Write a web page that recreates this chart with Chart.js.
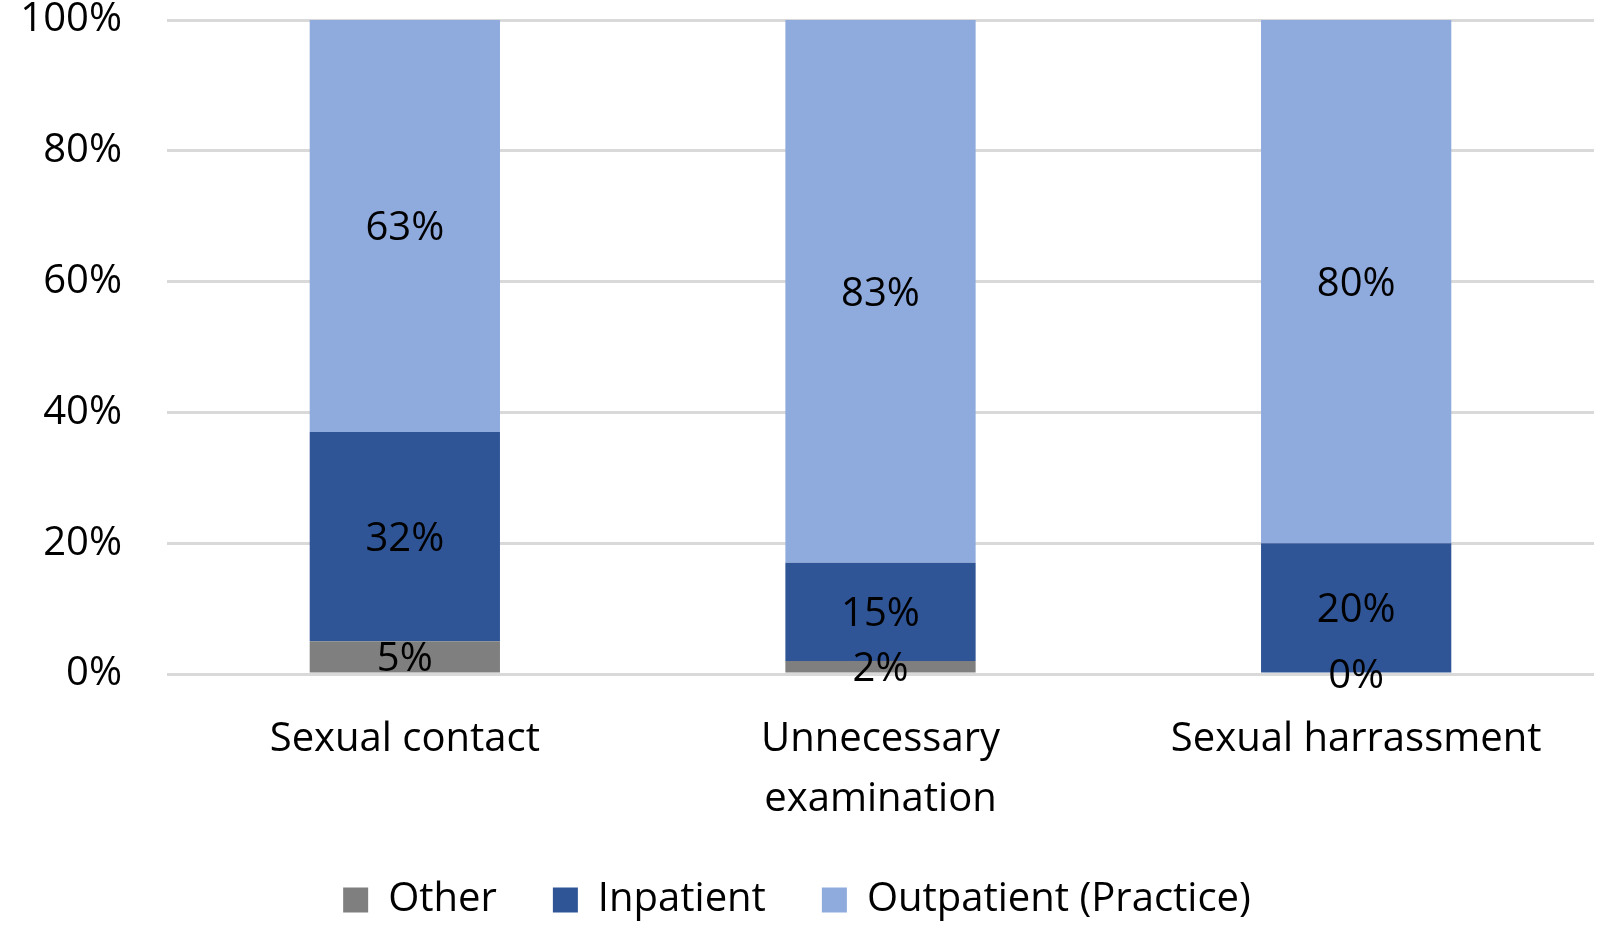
<!DOCTYPE html>
<html>
<head>
<meta charset="utf-8">
<script src="https://cdn.jsdelivr.net/npm/chart.js@4"></script>
<style>
  html, body { margin: 0; padding: 0; background: #fff; }
  #wrap { width: 1600px; height: 931px; }
</style>
</head>
<body>
<div id="wrap"><canvas id="chart"></canvas></div>
<script>
const categories = ["Sexual contact", ["Unnecessary", "examination"], "Sexual harrassment"];
const other = [5, 2, 0];
const inpatient = [32, 15, 20];
const outpatient = [63, 83, 80];
const yTicks = [0, 20, 40, 60, 80, 100];

const FONT = "'Open Sans', Lato, sans-serif";
const FSIZE = 40;

// labels in the middle of each segment
const segmentLabels = {
  id: "segmentLabels",
  afterDatasetsDraw(chart) {
    const ctx = chart.ctx;
    ctx.save();
    ctx.font = `${FSIZE}px ${FONT}`;
    ctx.fillStyle = "#000";
    ctx.textAlign = "center";
    ctx.textBaseline = "middle";
    chart.data.datasets.forEach((ds, i) => {
      const meta = chart.getDatasetMeta(i);
      meta.data.forEach((bar, j) => {
        const { x, y, base } = bar.getProps(["x", "y", "base"], true);
        ctx.fillText(ds.data[j] + "%", x, (y + base) / 2 + 3);
      });
    });
    ctx.restore();
  }
};

// legend sits a bit closer to the axis labels than chart.js puts it
const legendNudge = {
  id: "legendNudge",
  afterLayout(chart) {
    const lg = chart.legend;
    if (!lg) return;
    lg.top -= 34;
    lg.bottom -= 34;
  }
};

new Chart(document.getElementById("chart"), {
  type: "bar",
  data: {
    labels: categories,
    datasets: [
      { label: "Other", data: other, backgroundColor: "#7f7f7f" },
      { label: "Inpatient", data: inpatient, backgroundColor: "#2f5597" },
      { label: "Outpatient (Practice)", data: outpatient, backgroundColor: "#8faadc" }
    ]
  },
  options: {
    responsive: true,
    maintainAspectRatio: false,
    animation: false,
    layout: { padding: { top: 0, right: 6, bottom: -33, left: 0 } },
    datasets: { bar: { categoryPercentage: 0.4, barPercentage: 1 } },
    scales: {
      x: {
        stacked: true,
        grid: { display: false },
        border: { display: false },
        ticks: {
          color: "#000",
          font: { size: FSIZE, family: FONT, lineHeight: 1.5 },
          padding: 28,
          maxRotation: 0
        }
      },
      y: {
        stacked: true,
        min: 0,
        max: 100,
        afterBuildTicks: (axis) => { axis.ticks = yTicks.map(v => ({ value: v })); },
        afterFit: (axis) => { axis.width = 167; },
        // gap between labels and grid comes from an invisible tick mark
        grid: { color: "#d9d9d9", lineWidth: 3, drawTicks: true, tickLength: 45, tickColor: "rgba(0,0,0,0)" },
        border: { display: false },
        ticks: {
          color: "#000",
          font: { size: FSIZE, family: FONT, lineHeight: 1.0 },
          padding: 0,
          callback: (v) => v + "%"
        }
      }
    },
    plugins: {
      legend: {
        position: "bottom",
        labels: {
          color: "#000",
          font: { size: FSIZE, family: FONT },
          boxWidth: 25,
          boxHeight: 25,
          padding: 56
        }
      },
      tooltip: { enabled: false }
    }
  },
  plugins: [segmentLabels, legendNudge]
});
</script>
</body>
</html>
